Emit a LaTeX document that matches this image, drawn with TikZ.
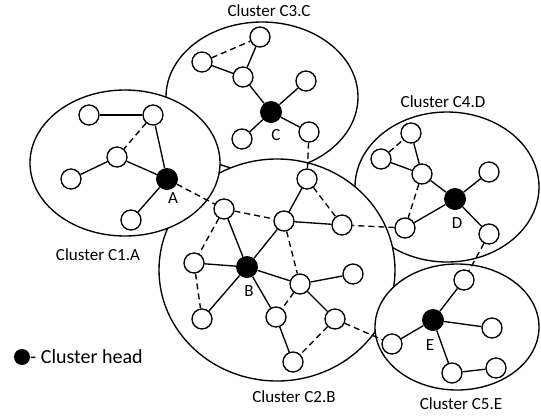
\documentclass[tikz,border=0pt]{standalone}
\usepackage{fontspec}
\setmainfont{Carlito}
\begin{document}
\begin{tikzpicture}[x=1pt,y=-1pt,
  lw/.style={line width=1.35pt},
  cluster/.style={lw,draw=black,fill=white},
  nd/.style={circle,lw,draw=black,fill=white,minimum size=20pt,inner sep=0pt},
  hd/.style={circle,fill=black,minimum size=22pt,inner sep=0pt},
  sl/.style={lw},
  dl/.style={lw,dash pattern=on 6pt off 4pt},
  lab/.style={font=\fontsize{17}{20}\selectfont,inner sep=0pt},
  hlab/.style={font=\fontsize{20}{24}\selectfont,inner sep=0pt}]
\useasboundingbox (0,0) rectangle (541,416);
% clusters (drawing order gives overlaps)
\draw[cluster] (262,97) ellipse [x radius=96,y radius=75];
\draw[cluster] (447,187) ellipse [x radius=92,y radius=75];
\draw[cluster] (277,270) ellipse [x radius=118,y radius=111];
\draw[cluster] (125,163) ellipse [x radius=95,y radius=73];
\draw[cluster] (457,327) ellipse [x radius=82,y radius=63];
% cluster titles
\node[lab] (t1) at (98,255) {Cluster C1.A};
\node[lab] (t2) at (294,397) {Cluster C2.B};
\node[lab] (t3) at (269,11) {Cluster C3.C};
\node[lab] (t4) at (443,102) {Cluster C4.D};
\node[lab] (t5) at (461,404) {Cluster C5.E};
% C1
\node[nd] (a1) at (89,115) {};
\node[nd] (a2) at (153,115) {};
\node[nd] (a3) at (117,157) {};
\node[nd] (a4) at (71,179) {};
\node[hd] (A) at (167,179) {};
\node[nd] (a5) at (131,220) {};
% C3
\node[nd] (c1) at (260,37) {};
\node[nd] (c2) at (202,62) {};
\node[nd] (c3) at (243,77) {};
\node[nd] (c4) at (306,81) {};
\node[hd] (C) at (271,112) {};
\node[nd] (c5) at (242,139) {};
\node[nd] (c6) at (309,132) {};
% C4
\node[nd] (d1) at (411,133) {};
\node[nd] (d2) at (381,159) {};
\node[nd] (d3) at (422,174) {};
\node[nd] (d4) at (489,172) {};
\node[hd] (D) at (455,199) {};
\node[nd] (d5) at (405,228) {};
\node[nd] (d6) at (489,234) {};
% C2
\node[nd] (b1) at (224,209) {};
\node[nd] (b2) at (307,179) {};
\node[nd] (b3) at (284,221) {};
\node[nd] (b4) at (342,225) {};
\node[nd] (b5) at (194,263) {};
\node[hd] (B) at (247,267) {};
\node[nd] (b6) at (300,284) {};
\node[nd] (b7) at (353,274) {};
\node[nd] (b8) at (202,319) {};
\node[nd] (b9) at (276,317) {};
\node[nd] (b10) at (335,319) {};
\node[nd] (b11) at (293,362) {};
% C5
\node[nd] (e1) at (464,280) {};
\node[hd] (E) at (433,320) {};
\node[nd] (e2) at (492,328) {};
\node[nd] (e3) at (392,344) {};
\node[nd] (e4) at (452,373) {};
\node[nd] (e5) at (496,368) {};
% head letters
\node[lab] (lA) at (173,198) {A};
\node[lab] (lB) at (249,291) {B};
\node[lab] (lC) at (276,135) {C};
\node[lab] (lD) at (457,223) {D};
\node[lab] (lE) at (430,345) {E};
% solid links
\draw[sl] (a1) -- (a2);
\draw[sl] (a2) -- (A);
\draw[sl] (a3) -- (A);
\draw[sl] (a4) -- (a3);
\draw[sl] (A) -- (a5);
\draw[sl] (c1) -- (c3);
\draw[sl] (c2) -- (c3);
\draw[sl] (c3) -- (C);
\draw[sl] (C) -- (c4);
\draw[sl] (C) -- (c5);
\draw[sl] (C) -- (c6);
\draw[sl] (d1) -- (d3);
\draw[sl] (d2) -- (d3);
\draw[sl] (d3) -- (D);
\draw[sl] (D) -- (d4);
\draw[sl] (D) -- (d5);
\draw[sl] (D) -- (d6);
\draw[sl] (b1) -- (B);
\draw[sl] (b2) -- (b3);
\draw[sl] (b3) -- (b4);
\draw[sl] (b3) -- (B);
\draw[sl] (b5) -- (B);
\draw[sl] (B) -- (b8);
\draw[sl] (B) -- (b6);
\draw[sl] (B) -- (b9);
\draw[sl] (b6) -- (b7);
\draw[sl] (b6) -- (b10);
\draw[sl] (b9) -- (b11);
\draw[sl] (E) -- (e1);
\draw[sl] (E) -- (e2);
\draw[sl] (E) -- (e3);
\draw[sl] (E) -- (e4);
\draw[sl] (e4) -- (e5);
% dashed links
\draw[dl] (a2) -- (a3);
\draw[dl] (A) -- (b1);
\draw[dl] (c2) -- (c1);
\draw[dl] (c6) -- (b2);
\draw[dl] (d2) -- (d1);
\draw[dl] (d3) -- (d5);
\draw[dl] (d5) -- (b4);
\draw[dl] (d6) -- (e1);
\draw[dl] (b1) -- (b3);
\draw[dl] (b1) -- (b5);
\draw[dl] (b2) -- (b4);
\draw[dl] (b3) -- (b6);
\draw[dl] (b5) -- (b8);
\draw[dl] (b6) -- (b9);
\draw[dl] (b10) -- (b11);
\draw[dl] (b10) -- (e3);
% legend
\node[circle,fill=black,minimum size=16pt,inner sep=0pt] (leg) at (22,357) {};
\node[hlab,anchor=west] (legt) at (30,357) {- Cluster head};
\end{tikzpicture}
\end{document}
